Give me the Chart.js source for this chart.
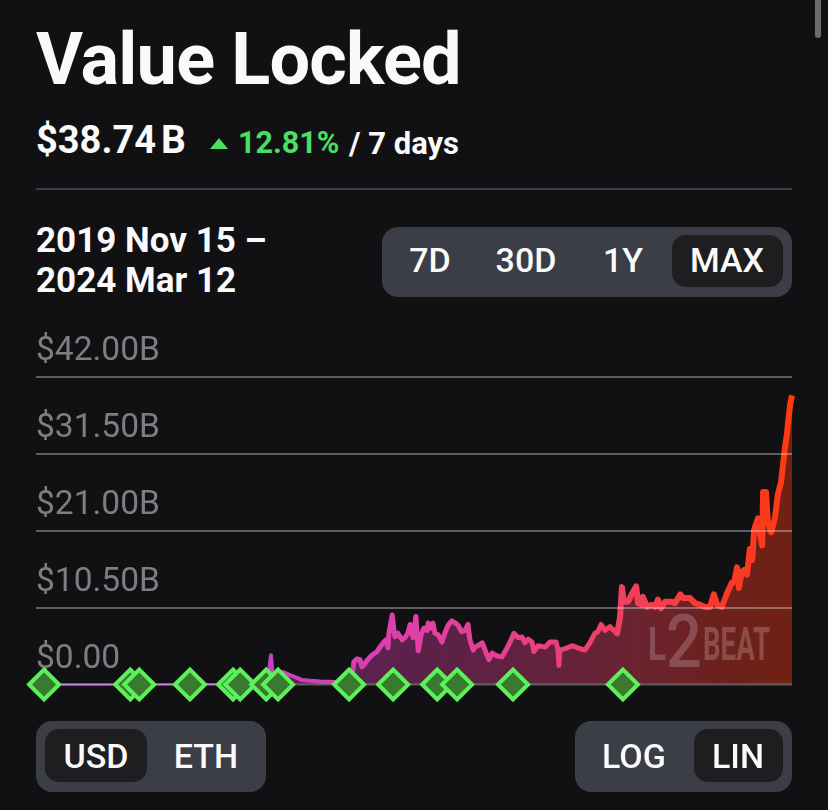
<!DOCTYPE html>
<html>
<head>
<meta charset="utf-8">
<title>Value Locked</title>
<script src="https://cdn.jsdelivr.net/npm/chart.js@4"></script>
<style>
  html, body { margin: 0; padding: 0; background: #111114; overflow: hidden; }
  body { width: 828px; height: 810px; position: relative; font-family: Roboto, sans-serif; color: #fafafa; }
  .t { position: absolute; line-height: 1; white-space: nowrap; }
  .c { transform: translateX(-50%); font-size: 34px; font-weight: 500; }
  .box { position: absolute; }
  .group { background: #3b3d47; border-radius: 16px; }
  .active { background: #1e1e20; border-radius: 14px; }
  .mark { position: absolute; line-height: 1; color: rgba(255,255,255,0.2); font-weight: 700; transform-origin: left top; white-space: nowrap; }
  #chartBox { position: absolute; left: 0; top: 320px; width: 828px; height: 390px; }
</style>
</head>
<body>
  <div class="box" style="left:815px;top:0;width:6px;height:38px;background:#6b6c70;border-radius:0 0 3px 3px"></div>

  <div class="t" style="left:36px;top:24px;font-size:72px;font-weight:700;letter-spacing:-0.8px">Value Locked</div>
  <div class="t" style="left:36px;top:121px;font-size:38px;font-weight:700">$38.74<span style="margin-left:5px;font-size:39px">B</span></div>
  <div class="box" style="left:210px;top:138px;width:0;height:0;border-left:9px solid transparent;border-right:9px solid transparent;border-bottom:11px solid #4ade62"></div>
  <div class="t" style="left:238px;top:128px;font-size:30.5px;font-weight:700;color:#4ade62">12.81%</div>
  <div class="t" style="left:349px;top:128px;font-size:31px;font-weight:700">/ 7 days</div>
  <div class="box" style="left:36px;top:188px;width:756px;height:2px;background:#3b3d47"></div>

  <div class="t" style="left:36px;top:223px;font-size:35px;font-weight:700">2019 Nov 15 –</div>
  <div class="t" style="left:36px;top:263px;font-size:35px;font-weight:700">2024 Mar 12</div>

  <div class="box group" style="left:382px;top:227px;width:410px;height:70px"></div>
  <div class="box active" style="left:672px;top:235px;width:111px;height:52px"></div>
  <div class="t c" style="left:430px;top:243px">7D</div>
  <div class="t c" style="left:526px;top:243px">30D</div>
  <div class="t c" style="left:623px;top:243px">1Y</div>
  <div class="t c" style="left:727px;top:243px">MAX</div>

  <div id="chartBox"><canvas id="tvlChart" width="828" height="390"></canvas></div>

  <div class="mark" style="left:648px;top:621px;font-size:46px;transform:scaleX(.72)">L</div>
  <div class="mark" style="left:666px;top:605px;font-size:74px;font-weight:500;transform:scaleX(.85)">2</div>
  <div class="mark" style="left:703px;top:621px;font-size:46px;transform:scaleX(.6)">BEAT</div>

  <div class="box group" style="left:36px;top:721px;width:230px;height:71px"></div>
  <div class="box active" style="left:45px;top:729px;width:102px;height:53px"></div>
  <div class="t c" style="left:96px;top:739px">USD</div>
  <div class="t c" style="left:206px;top:739px">ETH</div>

  <div class="box group" style="left:575px;top:721px;width:217px;height:71px"></div>
  <div class="box active" style="left:694px;top:729px;width:89px;height:53px"></div>
  <div class="t c" style="left:634px;top:739px">LOG</div>
  <div class="t c" style="left:738px;top:739px">LIN</div>

<script>
// days since 2019 Nov 15
const days = [
  0, 182, 308, 414, 452, 473, 479, 483, 498, 505, 519, 534, 545, 562, 583, 614, 635, 650, 654,
  661, 667, 671, 676, 682, 692, 703, 709, 716, 722, 726, 728, 735, 739, 741, 747, 756, 762, 768,
  773, 779, 785, 790, 796, 802, 809, 811, 817, 821, 825, 832, 840, 846, 853, 861, 868, 874, 882,
  889, 895, 899, 906, 910, 918, 925, 931, 939, 946, 956, 967, 975, 984, 992, 1001, 1009, 1015,
  1022, 1030, 1034, 1043, 1058, 1068, 1081, 1085, 1087, 1089, 1100, 1115, 1127, 1142, 1153, 1163,
  1169, 1176, 1184, 1195, 1205, 1210, 1216, 1220, 1224, 1233, 1241, 1250, 1254, 1262, 1264, 1273,
  1283, 1290, 1296, 1302, 1311, 1326, 1332, 1343, 1349, 1364, 1374, 1385, 1395, 1406, 1414, 1421,
  1431, 1442, 1452, 1457, 1463, 1467, 1473, 1480, 1484, 1490, 1495, 1499, 1507, 1511, 1516, 1518,
  1524, 1528, 1535, 1543, 1549, 1556, 1560, 1564, 1568, 1575, 1579
];

// total value locked, billions of USD
const tvl = [
  0, 0.01, 0.02, 0.05, 0.2, 0.5, 4.0, 0.9, 1.4, 1.7, 1.3, 0.9, 0.6, 0.5, 0.4, 0.35, 0.35, 0.6, 3.1,
  3.5, 3.4, 2.4, 2.7, 3.3, 4.0, 4.5, 5.1, 5.7, 6.1, 5.0, 7.0, 9.5, 7.2, 6.5, 7.0, 6.1, 6.4, 7.0,
  8.2, 6.4, 9.3, 4.6, 6.8, 7.7, 7.4, 8.4, 7.7, 8.4, 7.0, 6.8, 5.8, 7.0, 8.1, 8.7, 8.4, 8.1, 7.2,
  7.4, 8.2, 6.1, 4.7, 5.1, 5.4, 5.7, 4.7, 3.4, 4.3, 3.9, 3.8, 4.7, 5.8, 7.0, 6.4, 6.5, 5.7,
  6.2, 5.8, 4.5, 5.3, 5.1, 5.8, 5.8, 4.7, 2.6, 4.7, 4.9, 5.3, 5.0, 4.7, 5.8, 7.0,
  7.2, 8.2, 7.4, 7.9, 7.2, 7.0, 9.2, 13.3, 11.3, 11.3, 12.4, 13.4, 11.1, 10.9, 12.0, 10.6,
  10.9, 10.6, 11.6, 10.4, 11.3, 11.3, 11.1, 12.3, 11.8, 11.8, 11.1, 10.9, 10.6, 10.6, 12.3, 10.9,
  10.6, 12.5, 13.9, 14.0, 16.0, 13.2, 15.4, 15.7, 15.0, 18.5, 17.0, 21.1, 22.7, 20.8, 19.0, 26.3,
  26.3, 22.2, 20.8, 22.8, 25.9, 27.7, 30.0, 32.3, 34.1, 38.2, 39.5
];

// project launches on the timeline
const eventDays = [0, 182, 201, 308, 399, 414, 469, 494, 644, 737, 830, 872, 990, 1222];

const baselineDays = [0, 1579];
const yTickLabels = ["$0.00", "$10.50B", "$21.00B", "$31.50B", "$42.00B"];

function horizontalGradient(context, stops) {
  const area = context.chart.chartArea;
  if (!area) return stops[0][1];
  const g = context.chart.ctx.createLinearGradient(area.left, 0, area.right, 0);
  stops.forEach((s) => g.addColorStop(s[0], s[1]));
  return g;
}

const lineStops = [
  [0, "#b455d8"], [0.3, "#c83fc4"], [0.5, "#e03fa8"], [0.68, "#e8407f"],
  [0.8, "#f23f58"], [0.9, "#f7392c"], [1, "#ff3a10"]
];
const fillStops = [
  [0, "rgba(180,85,216,0.4)"], [0.3, "rgba(200,63,196,0.4)"], [0.5, "rgba(224,63,168,0.37)"],
  [0.68, "rgba(232,64,127,0.38)"], [0.8, "rgba(242,63,88,0.4)"], [0.9, "rgba(247,57,44,0.4)"],
  [1, "rgba(255,58,16,0.4)"]
];

function lineWidthFor(day) {
  if (day < 452) return 2;
  if (day < 640) return 4;
  if (day < 1200) return 5;
  return 6;
}

const tvlPoints = days.map((d, i) => ({ x: d, y: tvl[i] }));

new Chart(document.getElementById("tvlChart"), {
  type: "line",
  data: {
    datasets: [
      {
        label: "Events",
        data: eventDays.map((d) => ({ x: d, y: 0 })),
        showLine: false,
        pointStyle: "rectRot",
        pointRadius: 15,
        pointBorderWidth: 4,
        pointBackgroundColor: "#3a7a30",
        pointBorderColor: "#5cf05a",
        clip: false,
        order: 0,
      },
      {
        label: "Baseline",
        data: baselineDays.map((d) => ({ x: d, y: 0 })),
        borderColor: "rgba(255,255,255,0.3)",
        borderWidth: 2,
        pointRadius: 0,
        clip: false,
        order: 1,
      },
      {
        label: "Value Locked",
        data: tvlPoints,
        borderColor: (c) => horizontalGradient(c, lineStops),
        borderWidth: 5,
        borderJoinStyle: "round",
        segment: {
          borderWidth: (c) => lineWidthFor(c.p0.parsed.x),
        },
        pointRadius: 0,
        tension: 0,
        fill: false,
        clip: false,
        order: 2,
      },
      {
        // area goes in its own dataset so the width changes above leave no seams in it
        label: "Value Locked area",
        data: tvlPoints,
        borderWidth: 0,
        borderColor: "rgba(0,0,0,0)",
        backgroundColor: (c) => horizontalGradient(c, fillStops),
        pointRadius: 0,
        tension: 0,
        fill: "origin",
        order: 3,
      },
    ],
  },
  options: {
    responsive: false,
    animation: false,
    layout: { padding: { left: 36, right: 36, top: 57, bottom: 25.5 } },
    plugins: { legend: { display: false }, tooltip: { enabled: false } },
    scales: {
      x: { type: "linear", display: false, min: -17, max: 1579 },
      y: {
        min: 0,
        max: 42,
        border: { display: false },
        grid: {
          z: 1,
          drawTicks: false,
          lineWidth: 2,
          color: (c) => (c.tick.value === 0 ? "rgba(0,0,0,0)" : "rgba(255,255,255,0.33)"),
        },
        ticks: {
          stepSize: 10.5,
          mirror: true,
          padding: 0,
          labelOffset: -25,
          color: "#7d7e82",
          font: { family: "Roboto", size: 33.5 },
          callback: (value, index) => yTickLabels[index],
        },
      },
    },
  },
});
</script>
</body>
</html>
